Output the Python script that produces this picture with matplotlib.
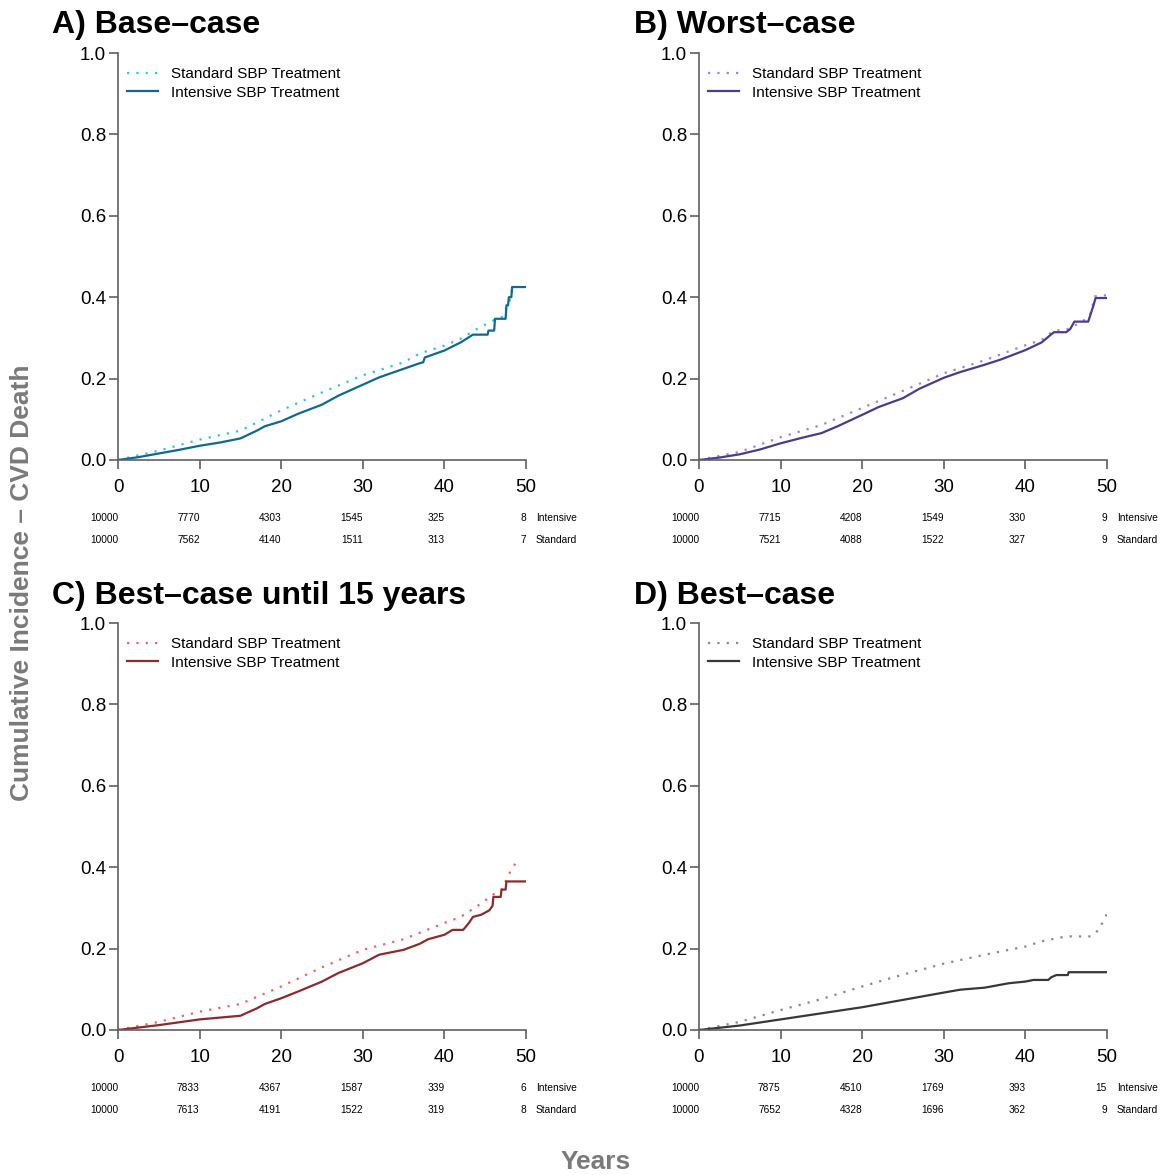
import matplotlib
matplotlib.use('Agg')
import matplotlib.pyplot as plt

plt.rcParams['font.family'] = ['Liberation Sans', 'DejaVu Sans']

# ---- data ----
panel_titles = ['A) Base\u2013case', 'B) Worst\u2013case',
                'C) Best\u2013case until 15 years', 'D) Best\u2013case']
legend_labels = ['Standard SBP Treatment', 'Intensive SBP Treatment']
risk_times = [0, 10, 20, 30, 40, 50]
risk_rows = ['Intensive', 'Standard']

# A) base-case
a_int_t = [0, 2.5, 5, 7.5, 10, 12.5, 15, 17, 18, 20, 22, 25, 27, 30, 32, 35, 37, 37.4, 37.6, 40, 42, 43.5, 45.3, 45.4, 46.1, 46.2, 47.5, 47.6, 47.8, 47.9, 48.2, 48.3, 50]
a_int_y = [0, 0.007, 0.016, 0.025, 0.035, 0.043, 0.053, 0.072, 0.083, 0.095, 0.113, 0.136, 0.158, 0.185, 0.203, 0.224, 0.238, 0.240, 0.252, 0.269, 0.289, 0.308, 0.308, 0.318, 0.318, 0.347, 0.347, 0.380, 0.380, 0.400, 0.400, 0.425, 0.425]
a_std_t = [0, 5, 10, 15, 20, 25, 30, 35, 37, 40, 42, 44, 46, 47, 48, 48.3]
a_std_y = [0, 0.023, 0.050, 0.072, 0.122, 0.166, 0.208, 0.240, 0.262, 0.281, 0.298, 0.322, 0.343, 0.350, 0.390, 0.420]
a_int_n = [10000, 7770, 4303, 1545, 325, 8]
a_std_n = [10000, 7562, 4140, 1511, 313, 7]

# B) worst-case
b_int_t = [0, 2.5, 5, 7.5, 10, 12.5, 15, 17, 20, 22, 25, 27, 30, 32, 35, 37, 40, 42, 43, 43.5, 45.0, 45.5, 46.0, 47.7, 48.0, 48.3, 48.6, 50]
b_int_y = [0, 0.006, 0.014, 0.026, 0.041, 0.054, 0.066, 0.083, 0.111, 0.130, 0.152, 0.175, 0.202, 0.216, 0.234, 0.247, 0.270, 0.289, 0.306, 0.314, 0.314, 0.322, 0.340, 0.340, 0.359, 0.377, 0.398, 0.398]
b_std_t = [0, 5, 10, 15, 20, 25, 30, 35, 40, 42, 43.5, 45, 47, 48, 48.5, 50]
b_std_y = [0, 0.020, 0.056, 0.086, 0.128, 0.170, 0.213, 0.245, 0.282, 0.295, 0.318, 0.320, 0.340, 0.360, 0.402, 0.405]
b_int_n = [10000, 7715, 4208, 1549, 330, 9]
b_std_n = [10000, 7521, 4088, 1522, 327, 9]

# C) best-case until 15 years
c_int_t = [0, 5, 10, 15, 17, 18, 20, 22, 25, 27, 30, 32, 35, 37, 38, 40, 41, 42.3, 43, 43.5, 44.5, 45.5, 45.9, 46.0, 46.9, 47.0, 47.5, 47.6, 50]
c_int_y = [0, 0.012, 0.026, 0.035, 0.053, 0.064, 0.078, 0.094, 0.119, 0.140, 0.164, 0.185, 0.197, 0.212, 0.223, 0.234, 0.246, 0.246, 0.263, 0.278, 0.283, 0.294, 0.305, 0.327, 0.327, 0.345, 0.345, 0.365, 0.365]
c_std_t = [0, 5, 10, 15, 20, 25, 30, 35, 40, 42, 44, 46, 47, 48, 49]
c_std_y = [0, 0.020, 0.045, 0.064, 0.107, 0.154, 0.197, 0.223, 0.263, 0.278, 0.304, 0.333, 0.345, 0.386, 0.419]
c_int_n = [10000, 7833, 4367, 1587, 339, 6]
c_std_n = [10000, 7613, 4191, 1522, 319, 8]

# D) best-case
d_int_t = [0, 5, 10, 15, 20, 25, 30, 32, 35, 38, 40, 41, 42.8, 43.2, 43.8, 45.2, 45.3, 50]
d_int_y = [0, 0.011, 0.026, 0.041, 0.056, 0.074, 0.092, 0.099, 0.104, 0.115, 0.119, 0.123, 0.123, 0.130, 0.135, 0.135, 0.142, 0.142]
d_std_t = [0, 5, 10, 15, 20, 25, 30, 35, 40, 42, 45, 48, 49, 50]
d_std_y = [0, 0.020, 0.049, 0.076, 0.107, 0.136, 0.163, 0.185, 0.205, 0.218, 0.230, 0.230, 0.246, 0.286]
d_int_n = [10000, 7875, 4510, 1769, 393, 15]
d_std_n = [10000, 7652, 4328, 1696, 362, 9]

std_colors = ['#2cc3f2', '#a27de8', '#f06262', '#8a8a8a']
int_colors = ['#0f6a8e', '#4d3b8c', '#8c2a2d', '#383838']

panels = [
    (a_int_t, a_int_y, a_std_t, a_std_y, a_int_n, a_std_n),
    (b_int_t, b_int_y, b_std_t, b_std_y, b_int_n, b_std_n),
    (c_int_t, c_int_y, c_std_t, c_std_y, c_int_n, c_std_n),
    (d_int_t, d_int_y, d_std_t, d_std_y, d_int_n, d_std_n),
]

W, H = 1167, 1175
fig = plt.figure(figsize=(W / 100, H / 100), dpi=100)

# axes boxes in pixels: (left, x-axis y)
boxes = [(118, 460), (699, 460), (118, 1030), (699, 1030)]
title_pos = [(52, 33), (634, 33), (52, 604), (634, 604)]
axis_col = '#606060'

for i, (it, iy, st, sy, i_n, s_n) in enumerate(panels):
    left, base = boxes[i]
    ax = fig.add_axes([left / W, (H - base) / H, 408 / W, 407 / H])

    ax.plot(st, sy, color=std_colors[i], lw=1.6, linestyle=(0, (1, 3.2)),
            label=legend_labels[0])
    ax.plot(it, iy, color=int_colors[i], lw=1.6, label=legend_labels[1])

    ax.set_xlim(0, 50)
    ax.set_ylim(0, 1)
    ax.set_xticks([0, 10, 20, 30, 40, 50])
    ax.set_yticks([0, 0.2, 0.4, 0.6, 0.8, 1.0])
    ax.set_yticklabels(['0.0', '0.2', '0.4', '0.6', '0.8', '1.0'])
    for s in ['top', 'right']:
        ax.spines[s].set_visible(False)
    for s in ['left', 'bottom']:
        ax.spines[s].set_color(axis_col)
        ax.spines[s].set_linewidth(1.2)
    ax.tick_params(direction='out', length=6.5, width=1.2, color=axis_col,
                   labelsize=13.5, pad=2)
    ax.tick_params(axis='x', pad=7)

    leg = ax.legend(loc='upper left', bbox_to_anchor=(0.022, 0.965),
                    frameon=False, fontsize=11, handlelength=2.0,
                    handletextpad=0.85, labelspacing=0.3,
                    borderpad=0, borderaxespad=0)

    # numbers at risk
    tr = ax.get_xaxis_transform()
    for row, (counts, ypos) in enumerate([(i_n, -0.143), (s_n, -0.197)]):
        for t, n in zip(risk_times, counts):
            ax.text(t, ypos, str(n), transform=tr, ha='right', va='center',
                    fontsize=7.3, clip_on=False)
        ax.text(51.2, ypos, risk_rows[row], transform=tr, ha='left',
                va='center', fontsize=7.3, clip_on=False)

    tx, ty = title_pos[i]
    fig.text(tx / W, (H - ty) / H, panel_titles[i], fontsize=23,
             fontweight='bold', ha='left', va='baseline')

fig.text(22 / W, (H - 583) / H, 'Cumulative Incidence \u2013 CVD Death',
         rotation=90, fontsize=19, fontweight='bold', color='#7a7a7a',
         ha='center', va='center')
fig.text(596 / W, (H - 1162) / H, 'Years', fontsize=19,
         fontweight='bold', color='#7a7a7a', ha='center', va='center')

fig.savefig('out.png', dpi=100, facecolor='white')
